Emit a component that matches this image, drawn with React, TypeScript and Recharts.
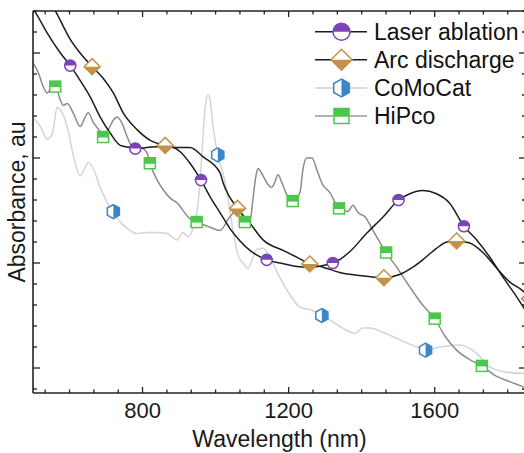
import React from 'react';
import { ComposedChart, Line, Scatter, XAxis, YAxis, Legend } from 'recharts';

type Pt = [number, number];

// Wavelength (nm), absorbance (a.u.)
const laserAblation: Pt[] = [
  [500, 3.42], [506, 3.39], [539, 3.19], [575, 3.0], [602, 2.88], [629, 2.74], [657, 2.58],
  [684, 2.39], [711, 2.24], [739, 2.12], [766, 2.1], [780, 2.09], [812, 2.1], [848, 2.11],
  [884, 2.1], [903, 2.06], [930, 1.95], [960, 1.79], [985, 1.63], [1012, 1.48], [1039, 1.33],
  [1067, 1.21], [1094, 1.12], [1121, 1.06], [1140, 1.03], [1176, 1.0], [1217, 0.97],
  [1258, 0.96], [1285, 0.97], [1321, 1.0], [1343, 1.04], [1368, 1.11], [1413, 1.28],
  [1459, 1.44], [1501, 1.6], [1532, 1.66], [1567, 1.69], [1605, 1.66], [1641, 1.57],
  [1680, 1.35], [1715, 1.22], [1750, 1.06], [1786, 0.87], [1824, 0.68], [1850, 0.54],
];

const arcDischarge: Pt[] = [
  [545, 3.5], [566, 3.37], [602, 3.13], [629, 3.0], [662, 2.87], [692, 2.76], [720, 2.62],
  [747, 2.43], [785, 2.27], [820, 2.17], [862, 2.12], [895, 2.1], [930, 2.1], [966, 2.01],
  [1012, 1.86], [1021, 1.76], [1060, 1.52], [1094, 1.38], [1130, 1.22], [1185, 1.12],
  [1231, 1.04], [1258, 0.99], [1294, 0.96], [1340, 0.91], [1395, 0.88], [1461, 0.86],
  [1504, 0.89], [1540, 0.96], [1567, 1.03], [1605, 1.14], [1633, 1.2], [1660, 1.21],
  [1696, 1.19], [1732, 1.1], [1770, 0.95], [1805, 0.82], [1843, 0.73], [1860, 0.66],
];

const coMoCat: Pt[] = [
  [501, 2.38], [520, 2.3], [539, 2.18], [553, 2.23], [566, 2.48], [575, 2.46], [594, 2.29],
  [610, 2.03], [629, 1.83], [643, 1.91], [651, 1.96], [665, 1.9], [684, 1.72], [703, 1.58],
  [720, 1.49], [739, 1.39], [758, 1.33], [785, 1.28], [812, 1.29], [840, 1.29], [867, 1.28],
  [895, 1.22], [911, 1.29], [925, 1.25], [938, 1.33], [949, 1.49], [957, 1.74], [966, 2.24],
  [974, 2.55], [979, 2.6], [985, 2.55], [993, 2.3], [1006, 2.03], [1020, 1.86], [1031, 1.68],
  [1048, 1.3], [1061, 1.08], [1075, 1.0], [1089, 0.95], [1102, 1.05], [1113, 1.13],
  [1130, 1.14], [1149, 1.05], [1176, 0.86], [1203, 0.7], [1231, 0.58], [1264, 0.55],
  [1291, 0.5], [1321, 0.44], [1359, 0.36], [1381, 0.33], [1403, 0.38], [1422, 0.38],
  [1458, 0.34], [1504, 0.27], [1551, 0.2], [1575, 0.17], [1614, 0.2], [1668, 0.22],
  [1715, 0.14], [1750, 0.01], [1797, -0.04], [1843, -0.05], [1850, -0.05],
];

const hiPco: Pt[] = [
  [501, 2.9], [515, 2.81], [528, 2.68], [539, 2.62], [547, 2.65], [561, 2.68], [575, 2.55],
  [583, 2.5], [594, 2.52], [610, 2.43], [629, 2.3], [643, 2.39], [651, 2.43], [665, 2.34],
  [684, 2.25], [692, 2.2], [706, 2.27], [720, 2.36], [730, 2.39], [744, 2.33], [758, 2.2],
  [774, 2.1], [793, 2.1], [812, 2.05], [820, 1.95], [840, 1.79], [856, 1.7], [875, 1.62],
  [895, 1.57], [930, 1.42], [948, 1.39], [985, 1.34], [1012, 1.31], [1039, 1.44],
  [1059, 1.5], [1067, 1.49], [1080, 1.39], [1094, 1.39], [1102, 1.6], [1111, 1.84],
  [1116, 1.9], [1130, 1.83], [1143, 1.75], [1154, 1.72], [1162, 1.77], [1171, 1.84],
  [1181, 1.77], [1195, 1.65], [1211, 1.59], [1231, 1.67], [1239, 1.89], [1250, 2.0],
  [1264, 2.0], [1277, 1.89], [1291, 1.76], [1313, 1.67], [1338, 1.52], [1362, 1.49],
  [1376, 1.55], [1390, 1.48], [1409, 1.44], [1431, 1.31], [1458, 1.15], [1467, 1.1],
  [1496, 0.96], [1532, 0.77], [1567, 0.6], [1600, 0.47], [1627, 0.31], [1660, 0.17],
  [1696, 0.08], [1729, 0.02], [1770, -0.08], [1805, -0.13], [1843, -0.18], [1850, -0.19],
];

const laserMarkerNm = [602, 780, 960, 1140, 1321, 1501, 1680];
const arcMarkerNm = [662, 862, 1060, 1258, 1461, 1660, 1860];
const coMoCatMarkerNm = [720, 1006, 1291, 1575];
const hiPcoMarkerNm = [561, 692, 820, 948, 1080, 1211, 1338, 1467, 1600, 1729];

const seriesNames = ['Laser ablation', 'Arc discharge', 'CoMoCat', 'HiPco'];

const xTicks = [
  533.333, 600, 666.667, 733.333, 800, 866.667, 933.333, 1000, 1066.667, 1133.333, 1200,
  1266.667, 1333.333, 1400, 1466.667, 1533.333, 1600, 1666.667, 1733.333, 1800,
];
const xTickLabels = [800, 1200, 1600];
const yTicks = [-0.2, 0, 0.2, 0.4, 0.6, 0.8, 1, 1.2, 1.4, 1.6, 1.8, 2, 2.2, 2.4, 2.6, 2.8, 3, 3.2, 3.4];
const yMajorTicks = [0, 1, 2, 3];

const X_DOMAIN: [number, number] = [500, 1850];
const Y_DOMAIN: [number, number] = [-0.238, 3.4];

const FONT = '"Liberation Sans", Arial, Helvetica, sans-serif';
const AXIS = '#222';
const PURPLE = '#7B45B9';
const TAN = '#C39247';
const BLUE = '#3A86C8';
const GREEN = '#4CC74C';

const toRows = (pts: Pt[]) => pts.map(([x, y]) => ({ x, y }));
const pickMarkers = (pts: Pt[], nms: number[]) => toRows(pts.filter(([x]) => nms.includes(x)));

const CircleMark = ({ cx, cy, s }: any) => (
  <g>
    <circle cx={cx} cy={cy} r={s} fill="#fff" />
    <path d={`M${cx - s},${cy} A${s},${s} 0 0 1 ${cx + s},${cy} Z`} fill={PURPLE} />
    <circle cx={cx} cy={cy} r={s} fill="none" stroke={PURPLE} strokeWidth={1.5} />
  </g>
);

const DiamondMark = ({ cx, cy, s }: any) => (
  <g>
    <polygon points={`${cx},${cy - s} ${cx + s},${cy} ${cx},${cy + s} ${cx - s},${cy}`} fill="#fff" />
    <polygon points={`${cx - s},${cy} ${cx + s},${cy} ${cx},${cy + s}`} fill={TAN} />
    <polygon
      points={`${cx},${cy - s} ${cx + s},${cy} ${cx},${cy + s} ${cx - s},${cy}`}
      fill="none"
      stroke={TAN}
      strokeWidth={1.5}
      strokeLinejoin="miter"
    />
  </g>
);

const HexMark = ({ cx, cy, s }: any) => {
  const w = s * 0.866;
  const all = `${cx},${cy - s} ${cx + w},${cy - s / 2} ${cx + w},${cy + s / 2} ${cx},${cy + s} ${cx - w},${cy + s / 2} ${cx - w},${cy - s / 2}`;
  const right = `${cx},${cy - s} ${cx + w},${cy - s / 2} ${cx + w},${cy + s / 2} ${cx},${cy + s}`;
  return (
    <g>
      <polygon points={all} fill="#fff" />
      <polygon points={right} fill={BLUE} />
      <polygon points={all} fill="none" stroke={BLUE} strokeWidth={1.5} />
    </g>
  );
};

const SquareMark = ({ cx, cy, s }: any) => {
  const h = s / 2;
  return (
    <g>
      <rect x={cx - h} y={cy - h} width={s} height={s} fill="#fff" />
      <rect x={cx - h} y={cy - h} width={s} height={s * 0.55} fill={GREEN} />
      <rect x={cx - h} y={cy - h} width={s} height={s} fill="none" stroke={GREEN} strokeWidth={1.5} />
    </g>
  );
};

const series = [
  { name: seriesNames[0], pts: laserAblation, nms: laserMarkerNm, color: '#1c1c1c', legendColor: '#1c1c1c', Mark: CircleMark, plotSize: 5.6, legendSize: 8.5 },
  { name: seriesNames[1], pts: arcDischarge, nms: arcMarkerNm, color: '#1c1c1c', legendColor: '#1c1c1c', Mark: DiamondMark, plotSize: 8, legendSize: 10.5 },
  { name: seriesNames[2], pts: coMoCat, nms: coMoCatMarkerNm, color: '#d4d4d4', legendColor: '#cfcfcf', Mark: HexMark, plotSize: 7, legendSize: 9 },
  { name: seriesNames[3], pts: hiPco, nms: hiPcoMarkerNm, color: '#8c8c8c', legendColor: '#999', Mark: SquareMark, plotSize: 11, legendSize: 15 },
];
const lineOrder = [2, 3, 0, 1];

const isMajorX = (v: number) => xTickLabels.some((m) => Math.abs(m - v) < 0.5);
const isMajorY = (v: number) => yMajorTicks.some((m) => Math.abs(m - v) < 1e-6);

const BottomTick = (p: any) => {
  const major = isMajorX(p.payload.value);
  return (
    <g>
      <line x1={p.x} x2={p.x} y1={p.y} y2={p.y - (major ? 6 : 3.5)} stroke={AXIS} strokeWidth={1.3} />
      {major && (
        <text x={p.x} y={p.y + 25} textAnchor="middle" fontSize={22} fill="#1a1a1a" fontFamily={FONT}>
          {Math.round(p.payload.value)}
        </text>
      )}
    </g>
  );
};
const TopTick = (p: any) => {
  const major = isMajorX(p.payload.value);
  return <line x1={p.x} x2={p.x} y1={p.y} y2={p.y + (major ? 6 : 3.5)} stroke={AXIS} strokeWidth={1.3} />;
};
const LeftTick = (p: any) => {
  const major = isMajorY(p.payload.value);
  return <line x1={p.x} x2={p.x + (major ? 7 : 4)} y1={p.y} y2={p.y} stroke={AXIS} strokeWidth={1.3} />;
};
const RightTick = (p: any) => {
  const major = isMajorY(p.payload.value);
  return <line x1={p.x} x2={p.x - (major ? 7 : 4)} y1={p.y} y2={p.y} stroke={AXIS} strokeWidth={1.3} />;
};

const LegendBox = () => {
  const rows = [31.7, 59.8, 88, 116];
  return (
    <svg width={240} height={135} style={{ display: 'block' }}>
      {series.map((s, i) => {
        const M = s.Mark;
        return (
          <g key={s.name}>
            <line x1={15} x2={67} y1={rows[i]} y2={rows[i]} stroke={s.legendColor} strokeWidth={1.5} />
            <M cx={41.5} cy={rows[i]} s={s.legendSize} />
            <text x={74} y={rows[i] + 8} fontSize={23} fill="#111" fontFamily={FONT}>
              {s.name}
            </text>
          </g>
        );
      })}
    </svg>
  );
};

export default function App() {
  return (
    <div
      style={{
        position: 'absolute',
        left: 0,
        top: 0,
        width: 524,
        height: 453,
        overflow: 'hidden',
        background: '#fff',
        fontFamily: FONT,
      }}
    >
      <ComposedChart width={540} height={453} margin={{ top: 0, right: 0, bottom: 0, left: 0 }}>
        <XAxis
          xAxisId="b"
          dataKey="x"
          type="number"
          domain={X_DOMAIN}
          allowDataOverflow
          ticks={xTicks}
          interval={0}
          tickSize={0}
          tickMargin={0}
          tickLine={false}
          tick={BottomTick}
          height={60}
          axisLine={{ stroke: AXIS, strokeWidth: 1.6 }}
          label={{ value: 'Wavelength (nm)', position: 'insideBottom', offset: 6, fontSize: 23, fill: '#1a1a1a', fontFamily: FONT }}
        />
        <XAxis
          xAxisId="t"
          orientation="top"
          dataKey="x"
          type="number"
          domain={X_DOMAIN}
          allowDataOverflow
          ticks={xTicks}
          interval={0}
          tickSize={0}
          tickMargin={0}
          tickLine={false}
          tick={TopTick}
          height={11}
          axisLine={{ stroke: AXIS, strokeWidth: 1.6 }}
        />
        <YAxis
          yAxisId="l"
          dataKey="y"
          type="number"
          domain={Y_DOMAIN}
          allowDataOverflow
          ticks={yTicks}
          interval={0}
          tickSize={0}
          tickMargin={0}
          tickLine={false}
          tick={LeftTick}
          width={33}
          axisLine={{ stroke: AXIS, strokeWidth: 1.6 }}
          label={{
            value: 'Absorbance, au',
            angle: -90,
            position: 'insideLeft',
            offset: 17,
            fontSize: 23,
            fill: '#1a1a1a',
            fontFamily: FONT,
            style: { textAnchor: 'middle' },
          }}
        />
        <YAxis
          yAxisId="r"
          orientation="right"
          dataKey="y"
          type="number"
          domain={Y_DOMAIN}
          allowDataOverflow
          ticks={yTicks}
          interval={0}
          tickSize={0}
          tickMargin={0}
          tickLine={false}
          tick={RightTick}
          width={14}
          axisLine={{ stroke: AXIS, strokeWidth: 1.6 }}
        />
        <Line
          xAxisId="t"
          yAxisId="r"
          data={toRows(hiPco)}
          dataKey="y"
          stroke="none"
          dot={false}
          legendType="none"
          isAnimationActive={false}
        />
        {lineOrder.map((i) => {
          const s = series[i];
          return (
            <Line
              key={'line-' + s.name}
              xAxisId="b"
              yAxisId="l"
              name={s.name}
              data={toRows(s.pts)}
              dataKey="y"
              type="monotone"
              stroke={s.color}
              strokeWidth={1.5}
              dot={false}
              activeDot={false}
              isAnimationActive={false}
            />
          );
        })}
        {lineOrder.map((i) => {
          const s = series[i];
          const M = s.Mark;
          return (
            <Scatter
              key={'mk-' + s.name}
              xAxisId="b"
              yAxisId="l"
              name={s.name + ' markers'}
              data={pickMarkers(s.pts, s.nms)}
              dataKey="y"
              legendType="none"
              isAnimationActive={false}
              shape={(p: any) => <M cx={p.cx} cy={p.cy} s={s.plotSize} />}
            />
          );
        })}
        <Legend
          layout="vertical"
          align="center"
          verticalAlign="middle"
          content={() => <LegendBox />}
          wrapperStyle={{ left: 300, top: 0, width: 240, height: 135 }}
        />
      </ComposedChart>
    </div>
  );
}
